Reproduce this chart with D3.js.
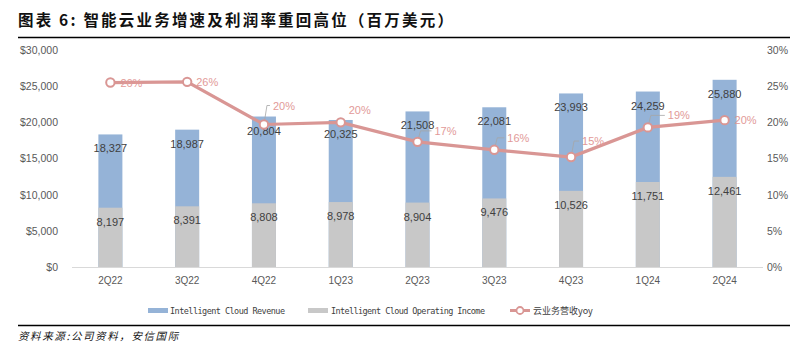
<!DOCTYPE html>
<html><head><meta charset="utf-8">
<script src="https://cdn.jsdelivr.net/npm/d3@7"></script>
<style>body{margin:0;background:#fff}svg{display:block}</style>
</head><body>
<svg id="c" width="808" height="359"></svg>
<script>
const categories = ["2Q22","3Q22","4Q22","1Q23","2Q23","3Q23","4Q23","1Q24","2Q24"];
const revenue = [18327,18987,20804,20325,21508,22081,23993,24259,25880];
const opIncome = [8197,8391,8808,8978,8904,9476,10526,11751,12461];
const growth = [25.5,25.6,19.7,20.0,17.3,16.2,15.2,19.3,20.3];
const leftTicks = [0,5000,10000,15000,20000,25000,30000];
const rightTicks = [0,5,10,15,20,25,30];
const legendLabels = ["Intelligent Cloud Revenue","Intelligent Cloud Operating Income","云业务营收yoy"];
const title = "图表 6: 智能云业务增速及利润率重回高位（百万美元）";
const source = "资料来源:公司资料，安信国际";

const svg = d3.select("#c");
const cBlue="#95B3D7", cGray="#C8C8C8", cLine="#D99694", cLbl="#E29A98", cTxt="#404040", cAxis="#595959";
const font="'Liberation Sans', Arial, sans-serif";

// title
svg.append("text").attr("x",18).attr("y",26).attr("font-family","'Noto Sans CJK SC', sans-serif")
  .attr("font-size",15.5).attr("font-weight","bold").attr("letter-spacing",2.2).attr("fill","#111").text(title);
svg.append("line").attr("x1",18).attr("x2",790).attr("y1",37.5).attr("y2",37.5).attr("stroke","#000").attr("stroke-width",1.5);
svg.append("line").attr("x1",18).attr("x2",790).attr("y1",325.5).attr("y2",325.5).attr("stroke","#000").attr("stroke-width",1.5);
svg.append("text").attr("x",18).attr("y",340).attr("font-family","'Noto Sans CJK SC', sans-serif")
  .attr("font-size",10.5).attr("font-style","italic").attr("letter-spacing",1.6).attr("fill","#111").text(source);

const x = d3.scaleBand().domain(categories).range([72,763]);
const y = d3.scaleLinear().domain([0,30000]).range([267,50]);
const y2 = d3.scaleLinear().domain([0,30]).range([267,50]);
const bw = 24;
const cx = d => x(d)+x.bandwidth()/2;

// left axis
const la = svg.append("g").attr("transform","translate(64,0)")
  .call(d3.axisLeft(y).tickValues(leftTicks).tickSize(0).tickPadding(6).tickFormat(d=>"$"+d3.format(",")(d)));
la.select(".domain").remove();
la.selectAll("text").attr("font-family",font).attr("font-size",10.5).attr("fill",cAxis);
// right axis
const ra = svg.append("g").attr("transform","translate(766,0)")
  .call(d3.axisRight(y2).tickValues(rightTicks).tickSize(0).tickPadding(1).tickFormat(d=>d+"%"));
ra.select(".domain").remove();
ra.selectAll("text").attr("font-family",font).attr("font-size",10.5).attr("fill",cAxis);

// bars
svg.append("g").selectAll("rect").data(categories).join("rect")
  .attr("x",d=>cx(d)-bw/2).attr("width",bw)
  .attr("y",(d,i)=>y(revenue[i])).attr("height",(d,i)=>y(0)-y(revenue[i]))
  .attr("fill",cBlue);
svg.append("g").selectAll("rect").data(categories).join("rect")
  .attr("x",d=>cx(d)-bw/2).attr("width",bw)
  .attr("y",(d,i)=>y(opIncome[i])).attr("height",(d,i)=>y(0)-y(opIncome[i]))
  .attr("fill",cGray);

// x axis
svg.append("line").attr("x1",72).attr("x2",763).attr("y1",267.5).attr("y2",267.5).attr("stroke","#D9D9D9").attr("stroke-width",1);
const xa = svg.append("g").attr("transform","translate(0,267)")
  .call(d3.axisBottom(x).tickSize(0).tickPadding(10));
xa.select(".domain").remove();
xa.selectAll("text").attr("font-family",font).attr("font-size",10).attr("fill",cAxis);

// bar labels
svg.append("g").selectAll("text").data(categories).join("text")
  .attr("x",d=>cx(d)).attr("y",(d,i)=>y(revenue[i])+18).attr("text-anchor","middle")
  .attr("font-family",font).attr("font-size",11).attr("fill",cTxt)
  .text((d,i)=>d3.format(",")(revenue[i]));
svg.append("g").selectAll("text").data(categories).join("text")
  .attr("x",d=>cx(d)).attr("y",(d,i)=>y(opIncome[i])+18).attr("text-anchor","middle")
  .attr("font-family",font).attr("font-size",11).attr("fill",cTxt)
  .text((d,i)=>d3.format(",")(opIncome[i]));

// line
const line = d3.line().x((d,i)=>cx(categories[i])).y(d=>y2(d));
svg.append("path").datum(growth).attr("d",line).attr("fill","none").attr("stroke",cLine).attr("stroke-width",3.2);

// leader lines and growth labels (label offsets relative to point)
const offs = [[10,0,0],[9,0,0],[9,-19,1],[8,-12,0],[17,-11,1],[13,-12,1],[11,-16,1],[20,-12,1],[10,0,0]];
svg.append("g").selectAll("path").data(growth).join("path")
  .attr("d",(d,i)=>{ if(!offs[i][2]) return null; const px=cx(categories[i]), py=y2(d);
    const lx=px+offs[i][0]-3, ly=py+offs[i][1];
    return `M${px},${py}L${px+3},${ly}L${lx},${ly}`; })
  .attr("fill","none").attr("stroke","#A6A6A6").attr("stroke-width",0.8);
svg.append("g").selectAll("circle").data(growth).join("circle")
  .attr("cx",(d,i)=>cx(categories[i])).attr("cy",d=>y2(d)).attr("r",4.2)
  .attr("fill","#fff").attr("stroke",cLine).attr("stroke-width",2);
svg.append("g").selectAll("text").data(growth).join("text")
  .attr("x",(d,i)=>cx(categories[i])+offs[i][0]).attr("y",(d,i)=>y2(d)+offs[i][1]+4)
  .attr("font-family",font).attr("font-size",11).attr("fill",cLbl)
  .text(d=>Math.round(d)+"%");

// legend
const lg = svg.append("g").attr("font-family","'DejaVu Sans Mono', monospace").attr("font-size",8.5).attr("fill","#404040");
lg.append("rect").attr("x",148).attr("y",308).attr("width",20).attr("height",5).attr("fill",cBlue);
lg.append("text").attr("x",170).attr("y",314).attr("textLength",115).text(legendLabels[0]);
lg.append("rect").attr("x",308).attr("y",308).attr("width",20).attr("height",5).attr("fill",cGray);
lg.append("text").attr("x",331).attr("y",314).attr("textLength",154).text(legendLabels[1]);
lg.append("line").attr("x1",510).attr("x2",530).attr("y1",310.5).attr("y2",310.5).attr("stroke",cLine).attr("stroke-width",3);
lg.append("circle").attr("cx",520).attr("cy",310.5).attr("r",3.5).attr("fill","#fff").attr("stroke",cLine).attr("stroke-width",1.8);
lg.append("text").attr("x",533).attr("y",314).attr("font-family","'Noto Sans CJK SC', sans-serif").attr("font-size",9).text(legendLabels[2]);
</script>
</body></html>
